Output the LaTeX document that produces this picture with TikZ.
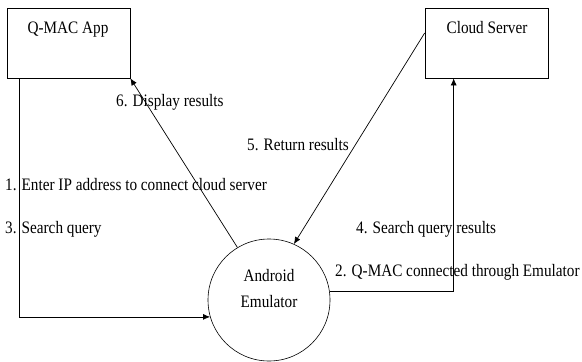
\documentclass[tikz,border=0pt]{standalone}
\usepackage{fontspec}
\setmainfont{Liberation Serif}[FakeStretch=0.87]
\usetikzlibrary{arrows.meta}
\begin{document}
\begin{tikzpicture}[x=1pt,y=-1pt,
  box/.style={draw, line width=0.7pt, minimum width=123pt, minimum height=70pt, inner sep=0pt},
  emucirc/.style={circle, draw, line width=0.6pt, minimum size=122pt, inner sep=0pt},
  lbl/.style={font=\fontsize{17.5}{21}\selectfont, inner sep=0pt, anchor=base west},
  ttl/.style={font=\fontsize{17.5}{21}\selectfont, inner sep=0pt, anchor=base},
  conn/.style={line width=0.7pt},
  arr/.style={conn, -{Latex[length=7pt,width=6pt]}}]
\useasboundingbox (0,0) rectangle (582,362);
\node[box] (app) at (68.5,43) {};
\node[box] (cloud) at (486.5,43) {};
\node[ttl] (apptxt) at (68,33) {Q-MAC App};
\node[ttl] (cloudtxt) at (487,33) {Cloud Server};
\node[emucirc] (emu) at (269,300) {};
\node[ttl] (emutxt1) at (269,281) {Android};
\node[ttl] (emutxt2) at (269,307) {Emulator};
% connectors
\draw[arr] ([xshift=13pt]app.south west) |- (emu.196);
\draw[arr] (emu.121) -- (app.south east);
\draw[arr] ([yshift=10pt]cloud.west) -- (emu.66);
\draw[arr] (emu.8) -| ([xshift=29pt]cloud.south west);
% labels
\node[lbl] (l6) at (116,106) {6. Display results};
\node[lbl] (l5) at (247,150) {5. Return results};
\node[lbl] (l1) at (5,190) {1. Enter IP address to connect cloud server};
\node[lbl] (l3) at (5,233) {3. Search query};
\node[lbl] (l4) at (356,233) {4. Search query results};
\node[lbl] (l2) at (335,276) {2. Q-MAC connected through Emulator};
\end{tikzpicture}
\end{document}
